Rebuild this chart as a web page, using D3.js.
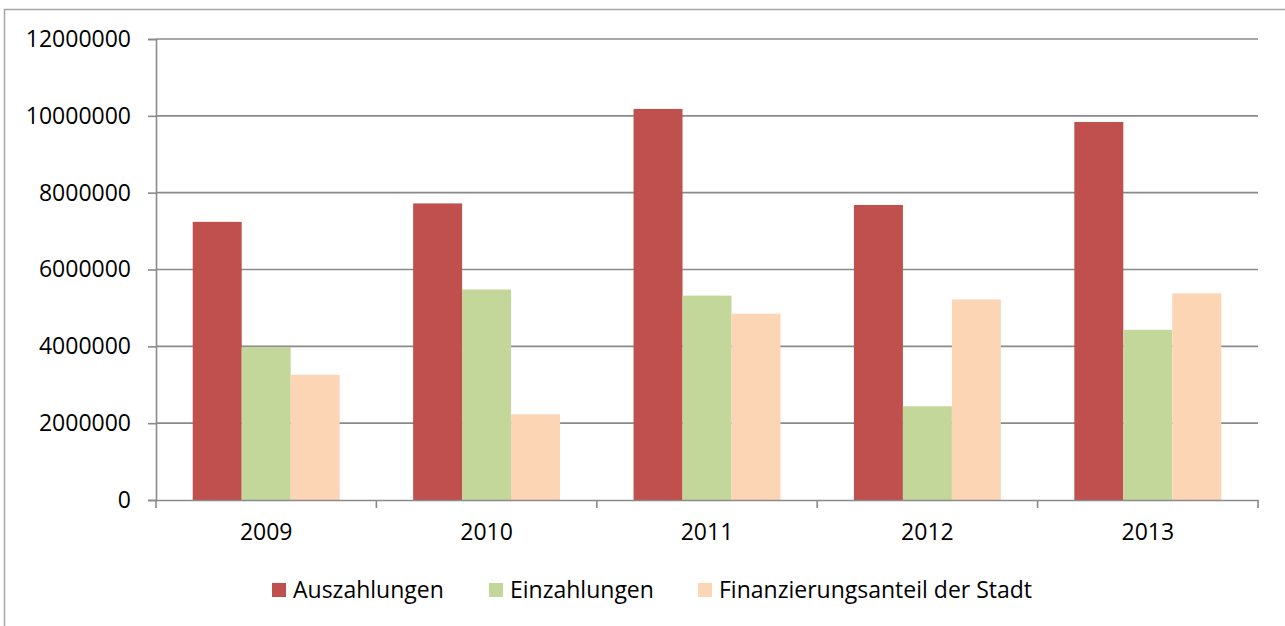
<!DOCTYPE html>
<html>
<head>
<meta charset="utf-8">
<script src="https://cdn.jsdelivr.net/npm/d3@7"></script>
<style>
    body { margin: 0; background: #fff; }
    text { font-family: "Open Sans", "Noto Sans", sans-serif; fill: #000; }
</style>
</head>
<body>
<div id="chart"></div>
<script>
var years = ['2009', '2010', '2011', '2012', '2013'];
var seriesNames = ['Auszahlungen', 'Einzahlungen', 'Finanzierungsanteil der Stadt'];
var auszahlungen = [7240000, 7720000, 10180000, 7680000, 9840000];
var einzahlungen = [3980000, 5480000, 5320000, 2440000, 4430000];
var finanzierung = [3260000, 2230000, 4850000, 5220000, 5380000];
var yTicks = [0, 2000000, 4000000, 6000000, 8000000, 10000000, 12000000];
var colors = ['#c0504d', '#c4d79b', '#fcd5b5'];

var seriesValues = [auszahlungen, einzahlungen, finanzierung];

var margin = {top: 39, right: 27, bottom: 126, left: 156},
    width = 1285 - margin.left - margin.right,
    height = 626 - margin.top - margin.bottom;

var svg = d3.select('#chart')
    .append('svg')
    .attr('width', 1285)
    .attr('height', 626);

// outer frame (only top and left edges are inside the picture)
svg.append('path')
    .attr('d', 'M4.5,626V9.5H1285')
    .attr('fill', 'none')
    .attr('stroke', '#a6a6a6')
    .attr('stroke-width', 1.5);

var g = svg.append('g')
    .attr('transform', 'translate(' + margin.left + ',' + margin.top + ')');

var x0 = d3.scaleBand().domain(years).range([0, width]).padding(0);
var x1 = d3.scaleBand().domain(d3.range(3)).range([0, x0.bandwidth()])
    .paddingInner(0).paddingOuter(0.75);
var y = d3.scaleLinear().domain([0, 12000000]).range([height, 0]);

// gridlines
g.append('g')
    .selectAll('line')
    .data(yTicks.slice(1))
    .enter().append('line')
    .attr('x1', 0)
    .attr('x2', width)
    .attr('y1', function (d) { return y(d); })
    .attr('y2', function (d) { return y(d); })
    .attr('stroke', '#8a8a8a')
    .attr('stroke-width', 1.6);

// bars
var groups = g.append('g')
    .selectAll('g')
    .data(years)
    .enter().append('g')
    .attr('transform', function (d) { return 'translate(' + x0(d) + ',0)'; });

groups.selectAll('rect')
    .data(function (d, i) {
        return seriesValues.map(function (s, k) { return {k: k, value: s[i]}; });
    })
    .enter().append('rect')
    .attr('x', function (d) { return x1(d.k); })
    .attr('width', x1.bandwidth())
    .attr('y', function (d) { return y(d.value); })
    .attr('height', function (d) { return height - y(d.value); })
    .attr('fill', function (d) { return colors[d.k]; });

// Y axis
var yAxis = g.append('g')
    .call(d3.axisLeft(y).tickValues(yTicks).tickSize(8).tickPadding(17)
        .tickFormat(function (d) { return String(d); }));
yAxis.select('.domain').attr('stroke', '#8a8a8a').attr('stroke-width', 1.6);
yAxis.selectAll('.tick line').attr('stroke', '#8a8a8a').attr('stroke-width', 1.6);
yAxis.selectAll('.tick text')
    .style('font-family', '"Open Sans", sans-serif')
    .style('font-size', '23px')
    .attr('fill', '#000');

// X axis
var xAxis = g.append('g')
    .attr('transform', 'translate(0,' + height + ')')
    .call(d3.axisBottom(x0).tickSize(0).tickPadding(24));
xAxis.select('.domain').attr('stroke', '#8a8a8a').attr('stroke-width', 1.6);
xAxis.selectAll('.tick text')
    .style('font-family', '"Open Sans", sans-serif')
    .style('font-size', '23px')
    .attr('fill', '#000');

// tick marks between categories
g.append('g')
    .selectAll('line')
    .data(years.concat(['end']))
    .enter().append('line')
    .attr('x1', function (d, i) { return i * x0.step(); })
    .attr('x2', function (d, i) { return i * x0.step(); })
    .attr('y1', height)
    .attr('y2', height + 8)
    .attr('stroke', '#8a8a8a')
    .attr('stroke-width', 1.6);

// legend
var legendX = [272, 489, 698];
var legend = svg.append('g')
    .selectAll('g')
    .data(seriesNames)
    .enter().append('g')
    .attr('transform', function (d, i) { return 'translate(' + legendX[i] + ',583)'; });

legend.append('rect')
    .attr('width', 14)
    .attr('height', 14)
    .attr('fill', function (d, i) { return colors[i]; });

legend.append('text')
    .attr('x', 21)
    .attr('y', 15)
    .style('font-size', '23px')
    .text(function (d) { return d; });
</script>
</body>
</html>
